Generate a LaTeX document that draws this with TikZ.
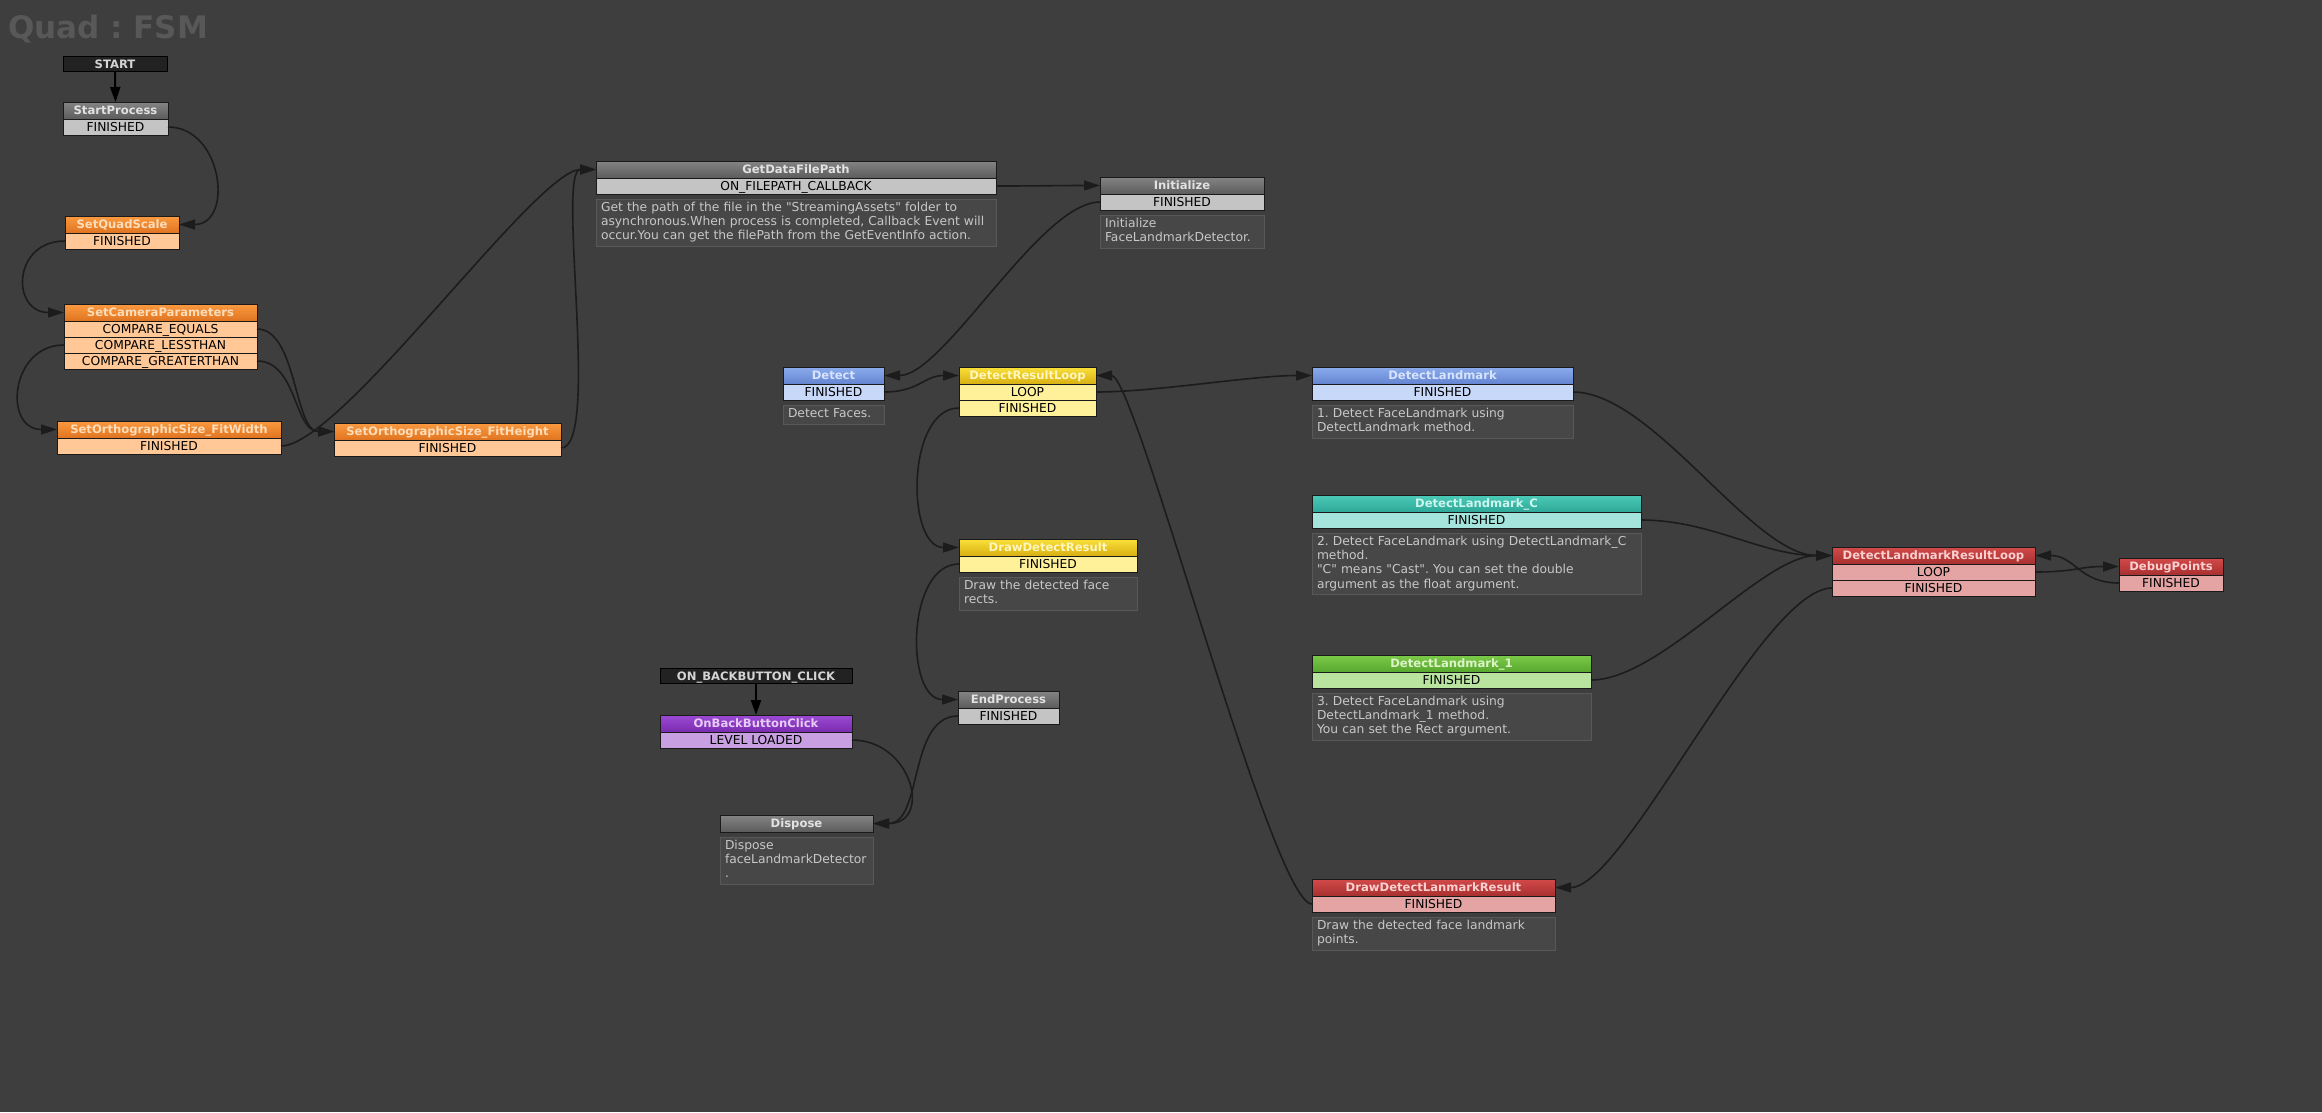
\documentclass[tikz,border=0pt]{standalone}
\usepackage{fontspec}
\setmainfont{DejaVu Sans}[Ligatures=TeXOff]
\usepackage{xcolor}
\definecolor{canvas}{HTML}{3E3E3E}
\definecolor{ttlc}{HTML}{585858}
\definecolor{edgec}{HTML}{1A1A1A}
\definecolor{linkc}{HTML}{1C1C1C}
\definecolor{notefill}{HTML}{474747}
\definecolor{noteedge}{HTML}{585858}
\definecolor{notetext}{HTML}{C8C8C8}
\definecolor{evfill}{HTML}{222222}
\definecolor{evtext}{HTML}{D4D4D4}
\definecolor{ghi}{HTML}{848484}
\definecolor{glo}{HTML}{5C5C5C}
\definecolor{gtx}{HTML}{E2E2E2}
\definecolor{grw}{HTML}{C4C4C4}
\definecolor{ohi}{HTML}{FA9A40}
\definecolor{olo}{HTML}{E07420}
\definecolor{otx}{HTML}{FFDDBA}
\definecolor{orw}{HTML}{FFC896}
\definecolor{bhi}{HTML}{8CACEE}
\definecolor{blo}{HTML}{6484D0}
\definecolor{btx}{HTML}{D8E4FF}
\definecolor{brw}{HTML}{C8D8F8}
\definecolor{yhi}{HTML}{FAE03A}
\definecolor{ylo}{HTML}{D8B012}
\definecolor{ytx}{HTML}{FFF6C0}
\definecolor{yrw}{HTML}{FFF09A}
\definecolor{phi}{HTML}{9C4AD4}
\definecolor{plo}{HTML}{7A2CB0}
\definecolor{ptx}{HTML}{E6CCF6}
\definecolor{prw}{HTML}{C8A0E2}
\definecolor{thi}{HTML}{4CCAB8}
\definecolor{tlo}{HTML}{2EA898}
\definecolor{ttx}{HTML}{CCF6EE}
\definecolor{trw}{HTML}{A4E4DC}
\definecolor{nhi}{HTML}{7CCA48}
\definecolor{nlo}{HTML}{58A830}
\definecolor{ntx}{HTML}{DCF4C8}
\definecolor{nrw}{HTML}{B8E4A0}
\definecolor{rhi}{HTML}{D24A4A}
\definecolor{rlo}{HTML}{A83030}
\definecolor{rtx}{HTML}{FAD0D0}
\definecolor{rrw}{HTML}{E4A4A4}
\usepackage{tikz}
\usetikzlibrary{arrows.meta, positioning}
\frenchspacing

\begin{document}
\begin{tikzpicture}[x=1pt, y=-1pt,
  hdr/.style={draw=edgec, line width=1pt, outer sep=0pt, inner sep=0pt, minimum height=17pt, anchor=north west, text height=8.5pt, text depth=0pt, font=\fontsize{11.6}{13}\selectfont\bfseries},
  rowbox/.style={draw=edgec, line width=1pt, outer sep=0pt, inner sep=0pt, minimum height=16pt, text height=9.2pt, text depth=0pt, text=black, font=\fontsize{12.3}{14}\selectfont},
  note/.style={draw=noteedge, line width=1pt, fill=notefill, outer sep=0pt, inner xsep=5pt, inner ysep=2.5pt, align=left, text=notetext, font=\fontsize{12.3}{14.2}\selectfont, execute at begin node=\strut, execute at end node=\strut},
  evt/.style={draw=black, line width=1pt, fill=evfill, text=evtext, outer sep=0pt, inner sep=0pt, minimum height=15.5pt, anchor=north west, text height=8.5pt, text depth=0pt, font=\fontsize{11.6}{13}\selectfont\bfseries},
  ghd/.style={hdr, top color=ghi, bottom color=glo, text=gtx}, gyrw/.style={rowbox, fill=grw},
  ohd/.style={hdr, top color=ohi, bottom color=olo, text=otx}, orrw/.style={rowbox, fill=orw},
  bhd/.style={hdr, top color=bhi, bottom color=blo, text=btx}, blrw/.style={rowbox, fill=brw},
  yhd/.style={hdr, top color=yhi, bottom color=ylo, text=ytx}, ylrw/.style={rowbox, fill=yrw},
  phd/.style={hdr, top color=phi, bottom color=plo, text=ptx}, pprw/.style={rowbox, fill=prw},
  thd/.style={hdr, top color=thi, bottom color=tlo, text=ttx}, tlrw/.style={rowbox, fill=trw},
  nhd/.style={hdr, top color=nhi, bottom color=nlo, text=ntx}, gnrw/.style={rowbox, fill=nrw},
  rhd/.style={hdr, top color=rhi, bottom color=rlo, text=rtx}, rdrw/.style={rowbox, fill=rrw},
  link/.style={draw=linkc, line width=1.6pt, -{Triangle[length=16pt, width=10pt]}},
  golink/.style={draw=black, line width=2pt, -{Triangle[length=15pt, width=10pt]}}
]
\fill[canvas] (0,0) rectangle (2322,1112);
\useasboundingbox (0,0) rectangle (2322,1112);
\node[anchor=base west, text=ttlc, inner sep=0pt, font=\fontsize{31}{34}\selectfont\bfseries] (ttl) at (8,38) {Quad : FSM};

% left column
\node[evt, minimum width=104pt] (st) at (63,56) {START};
\node[ghd, minimum width=105pt] (sp) at (63,102) {StartProcess};
\node[gyrw, minimum width=105pt, below=0pt of sp] (sp-f) {FINISHED};
\node[ohd, minimum width=114pt] (sq) at (65,216) {SetQuadScale};
\node[orrw, minimum width=114pt, below=0pt of sq] (sq-f) {FINISHED};
\node[ohd, minimum width=193pt] (sc) at (64,304) {SetCameraParameters};
\node[orrw, minimum width=193pt, below=0pt of sc] (sc-eq) {COMPARE\_EQUALS};
\node[orrw, minimum width=193pt, below=0pt of sc-eq] (sc-lt) {COMPARE\_LESSTHAN};
\node[orrw, minimum width=193pt, below=0pt of sc-lt] (sc-gt) {COMPARE\_GREATERTHAN};
\node[ohd, minimum width=224pt] (fw) at (57,421) {SetOrthographicSize\_FitWidth};
\node[orrw, minimum width=224pt, below=0pt of fw] (fw-f) {FINISHED};
\node[ohd, minimum width=227pt] (fh) at (334,423) {SetOrthographicSize\_FitHeight};
\node[orrw, minimum width=227pt, below=0pt of fh] (fh-f) {FINISHED};

% file path and init
\node[ghd, minimum width=400pt] (gd) at (596,161) {GetDataFilePath};
\node[gyrw, minimum width=400pt, below=0pt of gd] (gd-c) {ON\_FILEPATH\_CALLBACK};
\node[note, minimum width=400pt, text width=390pt, below=5pt of gd-c] (gd-n) {Get the path of the file in the "StreamingAssets" folder to\\asynchronous.When process is completed, Callback Event will\\occur.You can get the filePath from the GetEventInfo action.};
\node[ghd, minimum width=164pt] (ini) at (1100,177) {Initialize};
\node[gyrw, minimum width=164pt, below=0pt of ini] (ini-f) {FINISHED};
\node[note, minimum width=164pt, text width=154pt, below=5pt of ini-f] (ini-n) {Initialize\\FaceLandmarkDetector.};

% face detection
\node[bhd, minimum width=101pt] (dt) at (783,367) {Detect};
\node[blrw, minimum width=101pt, below=0pt of dt] (dt-f) {FINISHED};
\node[note, minimum width=101pt, text width=91pt, below=5pt of dt-f] (dt-n) {Detect Faces.};
\node[yhd, minimum width=137pt] (dr) at (959,367) {DetectResultLoop};
\node[ylrw, minimum width=137pt, below=0pt of dr] (dr-lp) {LOOP};
\node[ylrw, minimum width=137pt, below=0pt of dr-lp] (dr-f) {FINISHED};
\node[yhd, minimum width=178pt] (dd) at (959,539) {DrawDetectResult};
\node[ylrw, minimum width=178pt, below=0pt of dd] (dd-f) {FINISHED};
\node[note, minimum width=178pt, text width=168pt, below=5pt of dd-f] (dd-n) {Draw the detected face\\rects.};
\node[ghd, minimum width=101pt] (ep) at (958,691) {EndProcess};
\node[gyrw, minimum width=101pt, below=0pt of ep] (ep-f) {FINISHED};

% back button
\node[evt, minimum width=192pt] (ob) at (660,668) {ON\_BACKBUTTON\_CLICK};
\node[phd, minimum width=192pt] (bb) at (660,715) {OnBackButtonClick};
\node[pprw, minimum width=192pt, below=0pt of bb] (bb-f) {LEVEL LOADED};
\node[ghd, minimum width=153pt] (dp) at (720,815) {Dispose};
\node[note, minimum width=153pt, text width=143pt, below=5pt of dp] (dp-n) {Dispose\\faceLandmarkDetector\\.};

% landmarks
\node[bhd, minimum width=261pt] (lm) at (1312,367) {DetectLandmark};
\node[blrw, minimum width=261pt, below=0pt of lm] (lm-f) {FINISHED};
\node[note, minimum width=261pt, text width=251pt, below=5pt of lm-f] (lm-n) {1. Detect FaceLandmark using\\DetectLandmark method.};
\node[thd, minimum width=329pt] (lc) at (1312,495) {DetectLandmark\_C};
\node[tlrw, minimum width=329pt, below=0pt of lc] (lc-f) {FINISHED};
\node[note, minimum width=329pt, text width=319pt, below=5pt of lc-f] (lc-n) {2. Detect FaceLandmark using DetectLandmark\_C\\method.\\"C" means "Cast". You can set the double\\argument as the float argument.};
\node[nhd, minimum width=279pt] (l1) at (1312,655) {DetectLandmark\_1};
\node[gnrw, minimum width=279pt, below=0pt of l1] (l1-f) {FINISHED};
\node[note, minimum width=279pt, text width=269pt, below=5pt of l1-f] (l1-n) {3. Detect FaceLandmark using\\DetectLandmark\_1 method.\\You can set the Rect argument.};
\node[rhd, minimum width=243pt] (lr) at (1312,879) {DrawDetectLanmarkResult};
\node[rdrw, minimum width=243pt, below=0pt of lr] (lr-f) {FINISHED};
\node[note, minimum width=243pt, text width=233pt, below=5pt of lr-f] (lr-n) {Draw the detected face landmark\\points.};
\node[rhd, minimum width=203pt] (rl) at (1832,547) {DetectLandmarkResultLoop};
\node[rdrw, minimum width=203pt, below=0pt of rl] (rl-lp) {LOOP};
\node[rdrw, minimum width=203pt, below=0pt of rl-lp] (rl-f) {FINISHED};
\node[rhd, minimum width=104pt] (db) at (2119,558) {DebugPoints};
\node[rdrw, minimum width=104pt, below=0pt of db] (db-f) {FINISHED};

% transitions
\draw[golink] (st.south) -- (sp.north);
\draw[golink] (ob.south) -- (bb.north);
\draw[link] (sp-f.east) .. controls +(55,0) and +(55,0) .. (sq.east);
\draw[link] (sq-f.west) .. controls +(-53,0) and +(-53,0) .. (sc.west);
\draw[link] (sc-eq.east) .. controls +(40,0) and +(-40,0) .. (fh.west);
\draw[link] (sc-lt.west) .. controls +(-54,0) and +(-54,0) .. (fw.west);
\draw[link] (sc-gt.east) .. controls +(40,0) and +(-40,0) .. (fh.west);
\draw[link] (fw-f.east) .. controls +(60,0) and +(-60,0) .. (gd.west);
\draw[link] (fh-f.east) .. controls +(40,0) and +(-40,0) .. (gd.west);
\draw[link] (gd-c.east) .. controls +(40,0) and +(-40,0) .. (ini.west);
\draw[link] (ini-f.west) .. controls +(-60,0) and +(60,0) .. (dt.east);
\draw[link] (dt-f.east) .. controls +(35,0) and +(-35,0) .. (dr.west);
\draw[link] (dr-lp.east) .. controls +(60,0) and +(-60,0) .. (lm.west);
\draw[link] (dr-f.west) .. controls +(-53,0) and +(-53,0) .. (dd.west);
\draw[link] (dd-f.west) .. controls +(-53,0) and +(-53,0) .. (ep.west);
\draw[link] (ep-f.west) .. controls +(-50,0) and +(50,0) .. (dp.east);
\draw[link] (bb-f.east) .. controls +(60,0) and +(60,0) .. (dp.east);
\draw[link] (lm-f.east) .. controls +(80,0) and +(-80,0) .. (rl.west);
\draw[link] (lc-f.east) .. controls +(70,0) and +(-70,0) .. (rl.west);
\draw[link] (l1-f.east) .. controls +(70,0) and +(-70,0) .. (rl.west);
\draw[link] (rl-f.west) .. controls +(-70,0) and +(70,0) .. (lr.east);
\draw[link] (lr-f.west) .. controls +(-40,0) and +(40,0) .. (dr.east);
\draw[link] (rl-lp.east) .. controls +(40,0) and +(-40,0) .. (db.west);
\draw[link] (db-f.west) .. controls +(-40,0) and +(40,0) .. (rl.east);
\end{tikzpicture}
\end{document}
